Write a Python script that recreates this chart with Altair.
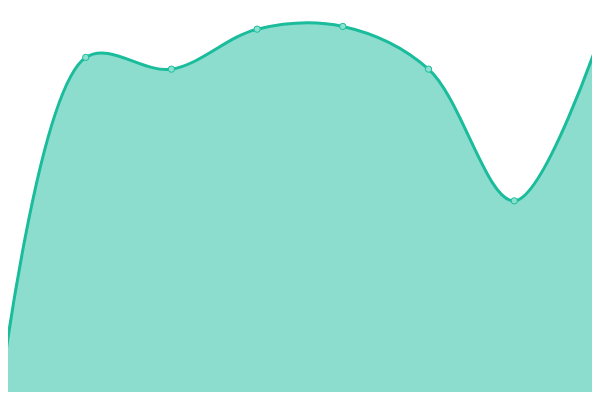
import altair as alt
import pandas as pd

# data
steps = [0, 1, 2, 3, 4, 5, 6, 7]
values = [1.0, 87.4, 84.4, 94.6, 95.3, 84.4, 50.8, 92.9]

df = pd.DataFrame({"step": steps, "value": values})

TEAL = "#1abc9c"

x = alt.X("step:Q", scale=alt.Scale(domain=[0.0933, 6.907], nice=False, zero=False), axis=None)
y = alt.Y("value:Q", scale=alt.Scale(domain=[2.04, 100], nice=False, zero=False), axis=None)

base = alt.Chart(df).encode(x=x, y=y)

area = base.mark_area(interpolate="catmull-rom", color=TEAL, opacity=0.5, clip=True)
line = base.mark_line(interpolate="catmull-rom", color=TEAL, strokeWidth=3, clip=True)
pts = base.mark_point(filled=True, fill="#8be0cf", stroke=TEAL, strokeWidth=1, size=40,
                      opacity=1, clip=True)

chart = alt.layer(area, line, pts).properties(
    width=584, height=384, padding=0, autosize=alt.AutoSizeParams(type="none"),
    background="white",
).configure_view(stroke=None)

chart.save("out.html", embed_options={"renderer": "svg", "actions": False})
